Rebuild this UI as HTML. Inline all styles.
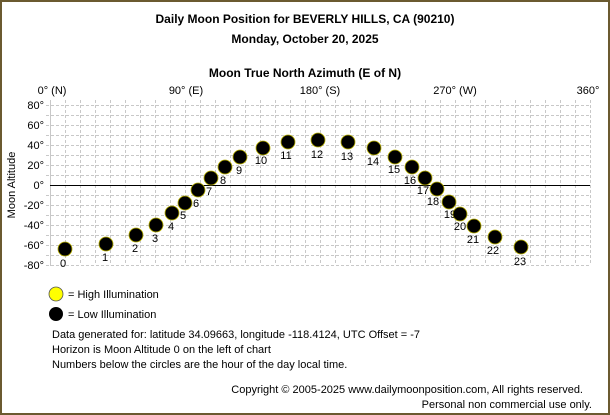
<!DOCTYPE html>
<html><head><meta charset="utf-8"><style>
html,body{margin:0;padding:0;background:#fff}
svg{display:block}
text{font-family:"Liberation Sans",Arial,sans-serif;font-size:11px;fill:#000}
.b{font-weight:bold;font-size:12px}
</style></head><body>
<svg width="610" height="415" viewBox="0 0 610 415" xmlns="http://www.w3.org/2000/svg">
<rect x="1" y="1" width="608" height="413" fill="#fff" stroke="#6b5a30" stroke-width="2"/>
<text class="b" x="305" y="23" text-anchor="middle">Daily Moon Position for BEVERLY HILLS, CA (90210)</text>
<text class="b" x="305" y="43" text-anchor="middle">Monday, October 20, 2025</text>
<text class="b" x="305" y="77" text-anchor="middle">Moon True North Azimuth (E of N)</text>
<g text-anchor="middle">
<text x="52" y="94">0° (N)</text><text x="186" y="94">90° (E)</text><text x="320" y="94">180° (S)</text><text x="455" y="94">270° (W)</text><text x="588" y="94">360°</text>
</g>
<g stroke="#c8c8c8" stroke-dasharray="3,2" stroke-width="1">
<path d="M65.5 100V265M80.5 100V265M95.5 100V265M110.5 100V265M125.5 100V265M140.5 100V265M155.5 100V265M170.5 100V265M185.5 100V265M200.5 100V265M215.5 100V265M230.5 100V265M245.5 100V265M260.5 100V265M275.5 100V265M290.5 100V265M305.5 100V265M320.5 100V265M335.5 100V265M350.5 100V265M365.5 100V265M380.5 100V265M395.5 100V265M410.5 100V265M425.5 100V265M440.5 100V265M455.5 100V265M470.5 100V265M485.5 100V265M500.5 100V265M515.5 100V265M530.5 100V265M545.5 100V265M560.5 100V265M575.5 100V265M590.5 100V265"/>
<path d="M46 105.5H590M46 115.5H590M46 125.5H590M46 135.5H590M46 145.5H590M46 155.5H590M46 165.5H590M46 175.5H590M46 195.5H590M46 205.5H590M46 215.5H590M46 225.5H590M46 235.5H590M46 245.5H590M46 255.5H590M46 265.5H590"/>
</g>
<path d="M50.5 100V266" stroke="#c8c8c8"/>
<path d="M50 185.5H590" stroke="#000"/>
<g text-anchor="end">
<text x="44" y="109">80°</text><text x="44" y="129">60°</text><text x="44" y="149">40°</text><text x="44" y="169">20°</text><text x="44" y="189">0°</text><text x="44" y="209">-20°</text><text x="44" y="229">-40°</text><text x="44" y="249">-60°</text><text x="44" y="269">-80°</text>
</g>
<text x="15" y="185" text-anchor="middle" transform="rotate(-90 15 185)">Moon Altitude</text>
<g fill="#000" stroke="#b8b000" stroke-width="0.8">
<circle cx="65" cy="249" r="7"/><circle cx="106" cy="244" r="7"/><circle cx="136" cy="235" r="7"/><circle cx="156" cy="225" r="7"/><circle cx="172" cy="213" r="7"/><circle cx="185" cy="203" r="7"/><circle cx="198" cy="190" r="7"/><circle cx="211" cy="178" r="7"/><circle cx="225" cy="167" r="7"/><circle cx="240" cy="157" r="7"/><circle cx="263" cy="148" r="7"/><circle cx="288" cy="142" r="7"/><circle cx="318" cy="140" r="7"/><circle cx="348" cy="142" r="7"/><circle cx="374" cy="148" r="7"/><circle cx="395" cy="157" r="7"/><circle cx="412" cy="167" r="7"/><circle cx="425" cy="178" r="7"/><circle cx="437" cy="189" r="7"/><circle cx="449" cy="202" r="7"/><circle cx="460" cy="214" r="7"/><circle cx="474" cy="226" r="7"/><circle cx="495" cy="237" r="7"/><circle cx="521" cy="247" r="7"/>
</g>
<g text-anchor="middle">
<text x="63" y="267">0</text><text x="105" y="261">1</text><text x="135" y="252">2</text><text x="155" y="242">3</text><text x="171" y="230">4</text><text x="183" y="219">5</text><text x="196" y="207">6</text><text x="209" y="195">7</text><text x="223" y="184">8</text><text x="239" y="174">9</text><text x="261" y="164">10</text><text x="286" y="159">11</text><text x="317" y="158">12</text><text x="347" y="160">13</text><text x="373" y="165">14</text><text x="394" y="173">15</text><text x="410" y="184">16</text><text x="423" y="194">17</text><text x="433" y="205">18</text><text x="450" y="218">19</text><text x="460" y="230">20</text><text x="473" y="243">21</text><text x="493" y="254">22</text><text x="520" y="265">23</text>
</g>
<circle cx="56" cy="294" r="7" fill="#ffff00" stroke="#555" stroke-width="0.8"/>
<circle cx="56" cy="314" r="7" fill="#000"/>
<text x="68" y="298">= High Illumination</text>
<text x="68" y="318">= Low Illumination</text>
<text x="52" y="338">Data generated for: latitude 34.09663, longitude -118.4124, UTC Offset = -7</text>
<text x="52" y="353">Horizon is Moon Altitude 0 on the left of chart</text>
<text x="52" y="368">Numbers below the circles are the hour of the day local time.</text>
<text x="583" y="393" text-anchor="end">Copyright © 2005-2025 www.dailymoonposition.com, All rights reserved.</text>
<text x="592" y="408" text-anchor="end">Personal non commercial use only.</text>
</svg>
</body></html>
